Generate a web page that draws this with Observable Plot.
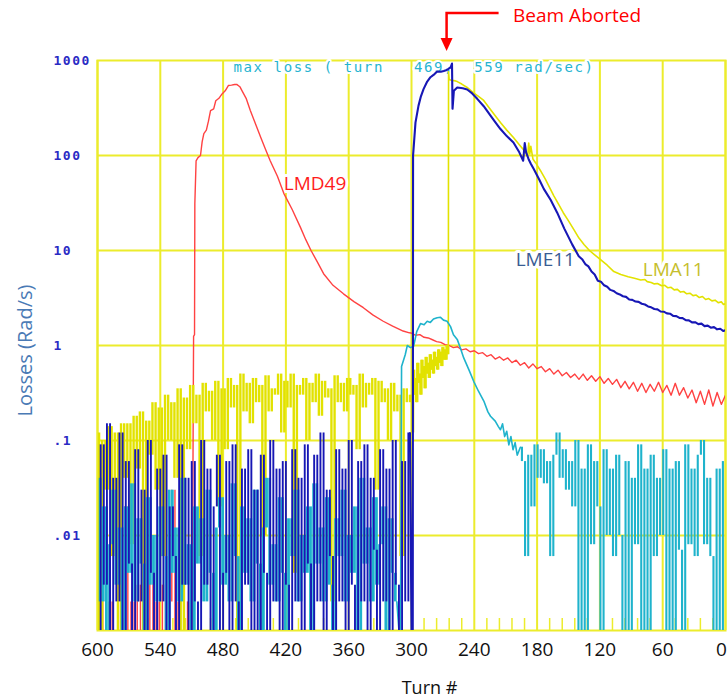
<!DOCTYPE html>
<html>
<head>
<meta charset="utf-8">
<script src="https://cdn.jsdelivr.net/npm/d3@7"></script>
<script src="https://cdn.jsdelivr.net/npm/@observablehq/plot@0.6"></script>
<style>
  body { margin: 0; background: #fff; }
  #chart { width: 728px; height: 700px; }
</style>
</head>
<body>
<div id="chart"></div>
<script>
// ---------------- data ----------------
const xTicks = [600, 540, 480, 420, 360, 300, 240, 180, 120, 60, 0];
const yTicks = [1000, 100, 10, 1, 0.1, 0.01];
const yTickLabels = ["1000", "100", "10", "1", ".1", ".01"];
const yGrid = [100, 10, 1, 0.1, 0.01];
const abortTurn = 266;
const maxLossText = "max loss ( turn   469,  559 rad/sec)";

// pre-abort noise, one sample every 3 turns (each detector sampled slightly offset)
const noiseStep = 3;
const lma11Start = 600, cyanStart = 599, lme11Start = 598.5, lmd49Start = 599.5;
const lma11Noise = [
  .12,.001,.1,.03,.14,.006,.12,.001,.15,.04,
  .15,.008,.18,.05,.2,.001,.16,.07,.25,.03,
  .22,.006,.3,.1,.25,.04,.35,.001,.28,.08,
  .38,.15,.3,.006,.4,.2,.33,.1,.42,.02,
  .35,.08,.45,.22,.38,.001,.5,.2,.4,.15,
  .45,.25,.38,.01,.48,.2,.35,.3,.5,.12,
  .42,.22,.5,.004,.38,.3,.45,.1,.4,.25,
  .5,.18,.42,.28,.35,.002,.48,.25,.4,.2,
  .45,.3,.38,.08,.5,.22,.4,.3,.45,.03,
  .42,.25,.35,.1,.4,.2,.3,.006,.35,.25];
const lme11Noise = [
  .001,.09,.003,.15,.001,.04,.002,.12,.001,.06,
  .005,.001,.08,.002,.03,.001,.1,.004,.001,.05,
  .002,.07,.001,.02,.006,.001,.09,.003,.04,.001,
  .06,.002,.001,.1,.003,.05,.001,.02,.07,.001,
  .004,.06,.001,.09,.002,.001,.05,.003,.08,.001,
  .03,.001,.07,.004,.001,.1,.002,.05,.001,.06,
  .003,.001,.08,.002,.04,.001,.09,.005,.001,.07,
  .002,.12,.001,.03,.006,.001,.08,.002,.05,.001,
  .1,.003,.001,.06,.002,.09,.001,.04,.007,.001,
  .08,.002,.05,.001,.1,.003,.001,.06,.002,.12];
const cyanNoise = [
  .04,.002,.02,.001,.008,.03,.003,.012,.001,.02,
  .004,.035,.002,.015,.005,.001,.025,.003,.01,.002,
  .02,.006,.001,.03,.004,.012,.002,.04,.003,.008,
  .001,.02,.005,.015,.002,.03,.004,.001,.012,.025,
  .003,.01,.002,.035,.006,.001,.02,.004,.015,.002,
  .03,.005,.001,.012,.04,.003,.008,.002,.025,.004,
  .001,.015,.006,.03,.002,.01,.004,.02,.001,.035,
  .005,.012,.002,.025,.003,.001,.015,.006,.03,.002,
  .01,.004,.02,.001,.04,.005,.012,.002,.025,.003,
  .008,.02,.001,.015,.004,.002];
const lmd49Noise = [
  .002,.001,.003,.001,.002,.001,.001,.003,.001,.02,
  .001,.002,.001,.003,.001,.002,.001,.004,.001,.002,
  .001,.003,.001,.002,.03,.001,.002,.02,.001,.002,.001];

// smooth parts: [turn, rad/s]
const lmd49Curve = [
  [508.5,.27],[508.2,1.25],[507.3,1.3],[507,31],[505.8,88],[504,95],[501.6,100],[500,140],
  [498.4,170],[496,185],[494,230],[492,297],[489,310],[487,377],[484,400],[481,445],[478,480],
  [475,545],[472,550],[469,559],[467,560],[464,530],[462,482],[458,400],[454,297],[449,215],
  [444,155],[440,120],[435,88],[428,60],[422,40],[414,27],[406,17.4],[401,13],[396,10],
  [390,7.6],[384,5.7],[375,4.3],[365,3.5],[355,2.9],[346,2.5],[337,2.1],[327,1.8],[318,1.6],
  [308,1.42],[302,1.36]];
// LMD49 tail, every 4 turns from turn 300
const lmd49TailStart = 300, lmd49TailStep = 4;
const lmd49Tail = [
  1.35,1.28,1.3,1.22,1.2,1.15,1.1,1.08,1.02,1.0,
  .95,.97,.9,.92,.86,.88,.82,.84,.77,.8,
  .72,.76,.7,.74,.66,.7,.62,.66,.58,.64,
  .57,.6,.53,.57,.5,.55,.48,.52,.46,.5,
  .44,.5,.43,.48,.42,.47,.4,.45,.39,.44,
  .36,.42,.35,.41,.33,.4,.32,.39,.33,.41,
  .32,.38,.3,.4,.3,.36,.28,.34,.25,.33,
  .24,.34,.23,.32,.24,.3];

const lme11Curve = [
  [300,.001],[298.8,.001],[298.5,100],[296.2,222],[293.3,335],[291,420],[288.5,500],[285,600],
  [281.9,667],[278,720],[275.5,765],[272,760],[269.2,775],[267,790],[264.7,817],[262.5,850],
  [261.3,930],[260.8,310],[259.5,480],[256.3,520],[251,510],[246.8,495],[242,450],[237.2,395],
  [231,330],[224.5,263],[220,225],[215,190],[209,160],[202.6,137],[197,108],[193.3,88],
  [191.8,135],[190.5,108],[188.2,92],[186,82],[183.2,72],[178,56],[173.6,44.5],[167,34],
  [160.8,25],[154,17],[146.5,11.6],[140.2,8.7],[137,8.1],[134,7.2],[131,6.8],[128,6.0],
  [125,5.6],[122,4.8],[119,4.7],[116,4.3],[113,4.15],[110,3.85],[107,3.75],[104,3.55],
  [101,3.45],[98,3.3],[95,3.25],[92,3.05],[89,3.02],[86,2.9],[83,2.88],[80,2.75],[77,2.7],
  [74,2.58],[71,2.52],[68,2.42],[65,2.4],[62,2.28],[59,2.27],[56,2.18],[53,2.16],[50,2.05],
  [47,2.04],[44,1.95],[41,1.94],[38,1.85],[35,1.84],[32,1.75],[29,1.76],[26,1.68],[23,1.7],
  [20,1.6],[17,1.62],[14,1.54],[11,1.56],[8,1.48],[5,1.5],[2,1.42],[0,1.45]];

// LMA11 jittery rise before the abort, then the post-abort decay
const lma11Rise = [
  [300,.3],[299,.12],[298,.55],[297,.3],[296,.45],[295,.25],[294,.65],[293,.4],[292,.5],
  [291,.3],[290,.7],[289,.45],[288,.6],[287,.35],[286,.75],[285,.5],[284,.65],[283,.45],
  [282,.8],[281,.55],[280,.7],[279,.5],[278,.85],[277,.6],[276,.75],[275,.55],[274,.9],
  [273,.65],[272,.85],[271,.6],[270,.95],[269,.7],[268,.9],[267,.7],[266,1.0],[265,.8],[264.8,.95]];
const lma11Curve = [
  [264.6,760],[264,630],[262,620],[258,610],[256.3,600],[252,565],
  [246.8,520],[241,460],[236,420],[231,380],[226,320],[220,262],[215,222],[209,185],
  [202.6,155],[197,130],[191,108],[189,100],[188,135],[187,104],[186,125],[184,92],[181.5,84],
  [177,70],[172,56],[168,46],[164,37.6],[159,30],[155,25],[150,20.5],[145,16.7],[140,13.5],
  [135,11.5],[130,10],[125,9],[119.4,8],[113,7],[106.7,6],[100,5.6],[93,5.3],[87,5.1],
  [81,4.9],[77,4.95],[74.8,4.7],[71,4.6],[68,4.45],[65,4.5],[61,4.25],[58,4.3],[55,4.05],
  [52,4.1],[49,3.85],[46,3.9],[43,3.65],[40,3.7],[37,3.5],[34,3.55],[31,3.35],[28,3.4],
  [25,3.2],[22,3.28],[19,3.05],[16,3.12],[13,2.95],[10,3.0],[7,2.82],[4,2.88],[2,2.7],[0,2.75]];

const cyanCurve = [
  [312,.001],[310.5,.001],[309.5,.6],[306,.8],[304,1.0],[301,.95],[298,.98],[295,1.4],
  [291.4,1.7],[288,1.65],[285,1.8],[282,1.75],[279,1.9],[275.5,1.96],[272.3,1.98],[269.4,1.85],
  [266,1.8],[262.7,1.58],[259.9,1.3],[256.3,1.16],[253,.92],[250.1,.74],[245,.55],[240.6,.42],
  [236,.33],[230.9,.26],[227,.2],[224.5,.18],[220,.16],[217,.14],[215,.13],[213,.15],[211,.11],
  [209,.125],[207,.09],[205,.11],[203,.08],[201,.095],[199,.07],[196,.085]];
// cyan post-abort noise, every 3 turns from turn 193
const cyanTailStart = 193, cyanTailStep = 3;
const cyanTail = [
  .06,.006,.07,.02,.09,.04,.08,.035,.06,.006,
  .07,.12,.04,.08,.03,.06,.02,.1,.001,.05,
  .001,.09,.008,.06,.02,.001,.08,.01,.05,.006,
  .07,.01,.001,.06,.001,.04,.008,.09,.001,.05,
  .001,.07,.006,.04,.01,.08,.001,.05,.001,.06,
  .007,.001,.09,.008,.05,.006,.07,.1,.008,.04,
  .006,.001,.05,.001,.06];

const seriesLabels = [
  {name: "LMD49", turn: 422, value: 50, color: "#ff1c1c"},
  {name: "LMA11", turn: 79, value: 6.2, color: "#c6be2c"}
];
const lme11Label = [{name: "LME11", turn: 200.5, value: 8, color: "#395d93"}];

// ---------------- build rows ----------------
const fromNoise = (start, step, vals) => vals.map((v, i) => ({turn: start - i * step, value: v}));
const fromPairs = pairs => pairs.map(([t, v]) => ({turn: t, value: v}));
const last = a => a[a.length - 1];
// each jump between consecutive samples becomes a vertical stroke
const jumps = rows => rows.slice(1).map((r, i) => ({turn: (rows[i].turn + r.turn) / 2, a: rows[i].value, b: r.value}));

const lmd49N = fromNoise(lmd49Start, noiseStep, lmd49Noise);
const lmd49C = [last(lmd49N), ...fromPairs(lmd49Curve), ...fromNoise(lmd49TailStart, lmd49TailStep, lmd49Tail)];
const lma11N = [...fromNoise(lma11Start, noiseStep, lma11Noise), ...fromPairs(lma11Rise)];
const lma11C = [last(lma11N), ...fromPairs(lma11Curve)];
const lme11N = fromNoise(lme11Start, noiseStep, lme11Noise);
const lme11C = [last(lme11N), ...fromPairs(lme11Curve)];
const cyanN = fromNoise(cyanStart, noiseStep, cyanNoise);
const cyanC = [last(cyanN), ...fromPairs(cyanCurve)];
const cyanT = [last(cyanC), ...fromNoise(cyanTailStart, cyanTailStep, cyanTail)];

const minorTicks = d3.range(12, 600, 12).filter(t => t % 60 !== 0);

const gridColor = "#ecec2c";
const C = {red: "#ff4242", yellow: "#e2e200", cyan: "#1fb3cc", blue: "#1717b5"};
const noiseMark = (rows, stroke, w) => Plot.ruleX(jumps(rows), {x: "turn", y1: "a", y2: "b", clip: true, stroke, strokeWidth: w});
const smoothLine = (data, stroke, w) => Plot.line(data, {x: "turn", y: "value", clip: true, curve: "linear", stroke, strokeWidth: w});

const chart = Plot.plot({
  width: 728, height: 700,
  marginTop: 60, marginBottom: 70, marginLeft: 97, marginRight: 3,
  style: {fontFamily: "Open Sans", background: "white", overflow: "visible", color: "#111"},
  x: {domain: [600, 0]},
  y: {type: "log", domain: [0.001, 1000], axis: null},
  marks: [
    Plot.gridX(xTicks, {stroke: gridColor, strokeOpacity: 1, strokeWidth: 2}),
    Plot.gridY(yGrid, {stroke: gridColor, strokeOpacity: 1, strokeWidth: 2}),
    Plot.ruleX(minorTicks, {x: d => d, stroke: gridColor, strokeWidth: 1.5, insetTop: 558}),
    Plot.frame({stroke: gridColor, strokeWidth: 2}),
    Plot.text([maxLossText], {text: d => d, frameAnchor: "top-left", dx: 136, dy: 2,
      textAnchor: "start", lineAnchor: "top", fontFamily: "DejaVu Sans Mono", fontSize: 14,
      fill: "#25b4d0", stroke: "white", strokeWidth: 4}),
    Plot.text(seriesLabels, {x: "turn", y: "value", text: "name", fill: "color",
      textAnchor: "start", fontSize: 19, stroke: "white", strokeWidth: 6}),
    noiseMark(lmd49N, C.red, 1.4),
    smoothLine(lmd49C, C.red, 1.4),
    noiseMark(lma11N, C.yellow, 2.4),
    smoothLine(lma11C, C.yellow, 1.6),
    noiseMark(cyanN, C.cyan, 2.8),
    smoothLine(cyanC, C.cyan, 1.6),
    noiseMark(cyanT, C.cyan, 2.1),
    noiseMark(lme11N, C.blue, 1.9),
    smoothLine(lme11C, C.blue, 2.1),
    Plot.text(lme11Label, {x: "turn", y: "value", text: "name", fill: "color",
      textAnchor: "start", fontSize: 19, stroke: "white", strokeWidth: 6}),
    Plot.axisX(xTicks.filter(t => t !== 0), {tickSize: 0, tickPadding: 12, fontSize: 19, label: null,
      tickFormat: d => String(d)}),
    Plot.axisX([0], {tickSize: 0, tickPadding: 12, fontSize: 19, label: null, dx: -4,
      tickFormat: d => String(d)}),
    Plot.text(yTicks, {y: d => d, text: (d, i) => yTickLabels[i], frameAnchor: "left",
      dx: -44, textAnchor: "start", fill: "#2a2ac4", fontFamily: "DejaVu Sans Mono",
      fontWeight: "bold", fontSize: 13}),
    Plot.text(["Losses (Rad/s)"], {text: d => d, frameAnchor: "left", rotate: -90,
      textAnchor: "middle", lineAnchor: "middle", dx: -72, dy: 5, fontSize: 20, fill: "#4a7ab5"}),
    Plot.text(["Turn #"], {text: d => d, frameAnchor: "bottom", lineAnchor: "middle",
      dx: 18, dy: 58, fontSize: 18}),
    Plot.text([abortTurn], {x: d => d, text: () => "Beam Aborted", frameAnchor: "top",
      lineAnchor: "middle", dx: 66, dy: -45, textAnchor: "start", fontSize: 19, fill: "#ff0000"})
  ]
});

document.getElementById("chart").appendChild(chart);

const svg = d3.select(chart);
// monospace letter spacing like the original instrument font
svg.selectAll('g[fill="#2a2ac4"] text').style("letter-spacing", "1.5px");
svg.selectAll('g[fill="#25b4d0"] text').style("letter-spacing", "1.6px").style("white-space", "pre");

// elbow arrow pointing at the abort turn
const ax = chart.scale("x").apply(abortTurn);
svg.append("path").attr("d", `M${ax + 52},13H${ax}V40`)
  .attr("fill", "none").attr("stroke", "#ff0000").attr("stroke-width", 2.5);
svg.append("path").attr("d", `M${ax - 6},38L${ax + 6},38L${ax},51Z`).attr("fill", "#ff0000");
</script>
</body>
</html>
